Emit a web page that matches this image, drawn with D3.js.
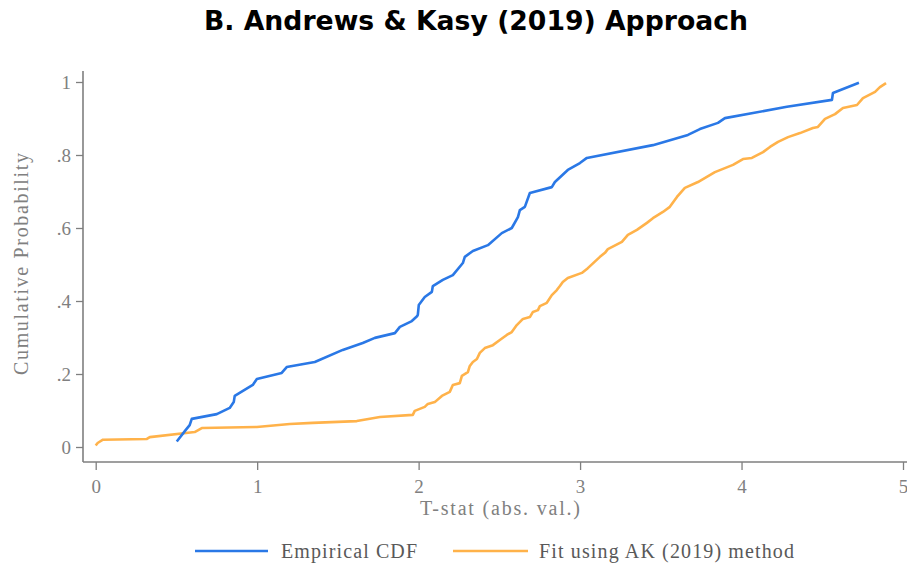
<!DOCTYPE html>
<html>
<head>
<meta charset="utf-8">
<script src="https://cdn.jsdelivr.net/npm/d3@7"></script>
<style>
  html, body { margin: 0; padding: 0; background: #fff; }
  svg { display: block; }
</style>
</head>
<body>
<svg id="chart" width="907" height="565"></svg>
<script>
// ---- Data ----
const titleText = "B. Andrews & Kasy (2019) Approach";
const xLabel = "T-stat (abs. val.)";
const yLabel = "Cumulative Probability";
const seriesNames = ["Empirical CDF", "Fit using AK (2019) method"];

const xTicks = [0, 1, 2, 3, 4, 5];
const xTickLabels = ["0", "1", "2", "3", "4", "5"];
const yTicks = [0, 0.2, 0.4, 0.6, 0.8, 1];
const yTickLabels = ["0", ".2", ".4", ".6", ".8", "1"];

const empiricalT = [0.502, 0.558, 0.582, 0.595, 0.750, 0.830, 0.855, 0.861, 0.973, 0.998,
  1.152, 1.183, 1.357, 1.530, 1.654, 1.729, 1.853, 1.884, 1.958, 1.990, 1.995, 2.001, 2.038,
  2.082, 2.088, 2.150, 2.212, 2.274, 2.286, 2.336, 2.429, 2.515, 2.577, 2.615, 2.627, 2.658,
  2.689, 2.825, 2.844, 2.924, 2.999, 3.042, 3.451, 3.668, 3.742, 3.854, 3.897, 4.281, 4.560,
  4.566, 4.727];
const empiricalP = [0.015, 0.047, 0.060, 0.077, 0.090, 0.107, 0.123, 0.140, 0.170, 0.186,
  0.203, 0.219, 0.233, 0.266, 0.285, 0.299, 0.312, 0.329, 0.345, 0.358, 0.362, 0.389, 0.411,
  0.425, 0.441, 0.458, 0.471, 0.504, 0.521, 0.537, 0.553, 0.586, 0.600, 0.630, 0.649, 0.658,
  0.696, 0.712, 0.726, 0.759, 0.778, 0.792, 0.827, 0.855, 0.871, 0.888, 0.901, 0.932, 0.951,
  0.970, 0.998];

const fitT = [0.000, 0.012, 0.045, 0.317, 0.335, 0.613, 0.657, 0.998, 1.202, 1.344, 1.617,
  1.716, 1.760, 1.964, 1.976, 2.038, 2.057, 2.100, 2.144, 2.193, 2.212, 2.255, 2.268, 2.305,
  2.317, 2.336, 2.361, 2.379, 2.410, 2.460, 2.503, 2.546, 2.577, 2.608, 2.646, 2.689, 2.708,
  2.739, 2.751, 2.794, 2.825, 2.856, 2.875, 2.893, 2.924, 3.011, 3.048, 3.123, 3.154, 3.172,
  3.259, 3.296, 3.352, 3.414, 3.451, 3.513, 3.556, 3.600, 3.649, 3.730, 3.835, 3.897, 3.947,
  4.009, 4.064, 4.133, 4.176, 4.226, 4.288, 4.362, 4.442, 4.473, 4.517, 4.579, 4.628, 4.715,
  4.752, 4.827, 4.857, 4.895];
const fitP = [0.004, 0.011, 0.020, 0.022, 0.027, 0.041, 0.052, 0.055, 0.063, 0.066, 0.071,
  0.079, 0.082, 0.088, 0.099, 0.110, 0.118, 0.123, 0.140, 0.151, 0.170, 0.175, 0.195, 0.205,
  0.222, 0.233, 0.241, 0.258, 0.271, 0.279, 0.293, 0.307, 0.315, 0.334, 0.351, 0.356, 0.370,
  0.375, 0.386, 0.395, 0.416, 0.430, 0.441, 0.452, 0.463, 0.477, 0.490, 0.521, 0.532, 0.542,
  0.562, 0.581, 0.595, 0.614, 0.627, 0.644, 0.658, 0.685, 0.710, 0.726, 0.753, 0.764, 0.773,
  0.789, 0.792, 0.808, 0.822, 0.836, 0.849, 0.860, 0.874, 0.877, 0.899, 0.912, 0.929, 0.937,
  0.956, 0.973, 0.986, 0.997];

const colors = ["#2a78e6", "#ffb24a"];

// ---- Layout ----
const svg = d3.select("#chart");
const W = 907, H = 565;
const axisGray = "#7f7f7f";
const textGray = "#808080";
const serif = "'Liberation Serif', 'Times New Roman', serif";

const x = d3.scaleLinear().domain([0, 5]).range([95.7, 903]);
const y = d3.scaleLinear().domain([0, 1]).range([447, 82]);

const axisLeftX = 83, axisBottomY = 462;

// Title
svg.append("text")
  .attr("x", 476).attr("y", 30)
  .attr("text-anchor", "middle")
  .attr("font-family", "'DejaVu Sans', sans-serif")
  .attr("font-weight", "bold")
  .attr("font-size", 26)
  .attr("textLength", 544)
  .attr("lengthAdjust", "spacingAndGlyphs")
  .attr("fill", "#000")
  .text(titleText);

// Y axis
const yAxis = d3.axisLeft(y)
  .tickValues(yTicks)
  .tickFormat((d, i) => yTickLabels[i])
  .tickSize(7)
  .tickPadding(5);
const gy = svg.append("g").attr("transform", `translate(${axisLeftX},0)`).call(yAxis);
gy.select(".domain").remove();
gy.selectAll(".tick line").attr("stroke", axisGray).attr("stroke-width", 1.3);
gy.selectAll(".tick text")
  .attr("font-family", serif).attr("font-size", 19).attr("fill", textGray);
svg.append("line")
  .attr("x1", axisLeftX).attr("x2", axisLeftX)
  .attr("y1", 71).attr("y2", axisBottomY)
  .attr("stroke", axisGray).attr("stroke-width", 1.6);

// X axis
const xAxis = d3.axisBottom(x)
  .tickValues(xTicks)
  .tickFormat((d, i) => xTickLabels[i])
  .tickSize(8)
  .tickPadding(10);
const gx = svg.append("g").attr("transform", `translate(0,${axisBottomY})`).call(xAxis);
gx.select(".domain").remove();
gx.selectAll(".tick line").attr("stroke", axisGray).attr("stroke-width", 1.3);
gx.selectAll(".tick text")
  .attr("font-family", serif).attr("font-size", 19).attr("fill", textGray);
svg.append("line")
  .attr("x1", axisLeftX).attr("x2", W)
  .attr("y1", axisBottomY).attr("y2", axisBottomY)
  .attr("stroke", axisGray).attr("stroke-width", 1.6);

// Axis titles
svg.append("text")
  .attr("x", 500).attr("y", 515)
  .attr("text-anchor", "middle")
  .attr("font-family", serif).attr("font-size", 20).attr("fill", textGray)
  .attr("textLength", 160).attr("lengthAdjust", "spacing")
  .text(xLabel);
svg.append("text")
  .attr("transform", "translate(28,264) rotate(-90)")
  .attr("text-anchor", "middle")
  .attr("font-family", serif).attr("font-size", 20).attr("fill", textGray)
  .attr("textLength", 222).attr("lengthAdjust", "spacing")
  .text(yLabel);

// Lines
const line = d3.line().x(d => x(d[0])).y(d => y(d[1])).curve(d3.curveLinear);
const empirical = empiricalT.map((t, i) => [t, empiricalP[i]]);
const fit = fitT.map((t, i) => [t, fitP[i]]);

const plot = svg.append("g");
plot.append("path").datum(fit)
  .attr("d", line).attr("fill", "none")
  .attr("stroke", colors[1]).attr("stroke-width", 2.6)
  .attr("stroke-linejoin", "round");
plot.append("path").datum(empirical)
  .attr("d", line).attr("fill", "none")
  .attr("stroke", colors[0]).attr("stroke-width", 2.6)
  .attr("stroke-linejoin", "round");

// Legend
const legendItems = [
  { x1: 195, x2: 268, tx: 281, tl: 136 },
  { x1: 453, x2: 528, tx: 539, tl: 255 }
];
const lg = svg.append("g");
legendItems.forEach((it, i) => {
  lg.append("line")
    .attr("x1", it.x1).attr("x2", it.x2)
    .attr("y1", 551).attr("y2", 551)
    .attr("stroke", colors[i]).attr("stroke-width", 2.6);
  lg.append("text")
    .attr("x", it.tx).attr("y", 557.5)
    .attr("font-family", serif).attr("font-size", 20).attr("fill", "#595959")
    .attr("textLength", it.tl).attr("lengthAdjust", "spacing")
    .text(seriesNames[i]);
});
</script>
</body>
</html>
